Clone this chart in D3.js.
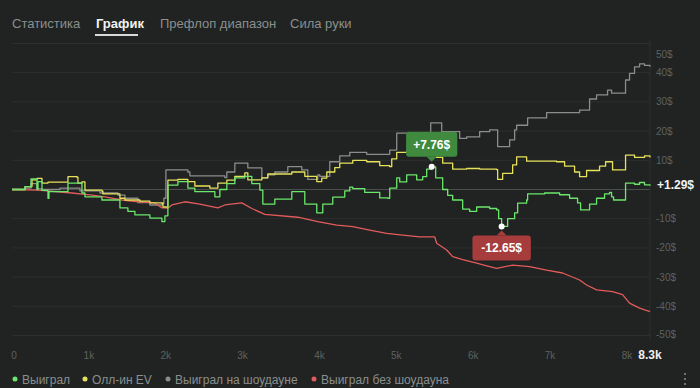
<!DOCTYPE html>
<html>
<head>
<meta charset="utf-8">
<script src="https://cdn.jsdelivr.net/npm/d3@7"></script>
<style>
  html, body { margin: 0; padding: 0; background: #202322; overflow: hidden; }
  svg { display: block; font-family: "Liberation Sans", "Noto Sans", sans-serif; }
</style>
</head>
<body>
<svg id="chart" width="700" height="388"></svg>
<script>
// tabs above the chart
const tabs = ['Статистика', 'График', 'Префлоп диапазон', 'Сила руки'];
const activeTab = 1;

// x axis (hands) and y axis (dollars)
const xTicks = [0, 1000, 2000, 3000, 4000, 5000, 6000, 7000, 8000];
const xTickLabels = ['0', '1k', '2k', '3k', '4k', '5k', '6k', '7k', '8k'];
const totalHands = 8300;
const totalLabel = '8.3k';
const yTicks = [50, 40, 30, 20, 10, -10, -20, -30, -40, -50];

// series: Выиграл (green)
const winHands = [0, 169, 247, 325, 338, 390, 468, 481, 728, 910, 949, 1170, 1404, 1508, 1599, 1794, 1950, 1989, 2028, 2158, 2288, 2379, 2639, 2704, 2795, 2899, 3029, 3120, 3224, 3263, 3419, 3640, 3809, 3965, 4043, 4173, 4329, 4394, 4433, 4589, 4784, 4888, 4914, 5005, 5044, 5135, 5265, 5343, 5395, 5460, 5512, 5603, 5668, 5733, 5863, 5954, 6045, 6214, 6305, 6331, 6370, 6448, 6539, 6578, 6695, 6708, 6929, 7124, 7254, 7358, 7397, 7514, 7605, 7709, 7774, 7800, 7826, 7969, 7982, 8099, 8164, 8229, 8300];
const winValues = [0, 1, 3.6, 0, 2.7, -0.3, -3, -0.7, 2.2, -1.2, -2.5, -3.6, -6.3, -7.5, -8.7, -9.8, -11, -9, 1.5, 2.7, 0.5, -0.7, -2.5, 0, 2, 4, 4.5, 2, -0.2, -5, -3.3, -0.7, -5, -8, -5, -2.6, -0.5, 0.8, 0.3, -1, -2.9, -3, 0.5, 4, 2.6, 5, 3.3, 4.4, 7, 7.76, 4, 0, -2, -3.6, -6.7, -7.5, -6, -6.5, -7, -10, -12.65, -10, -8, -4.7, -3.6, -1.5, -1.2, -1.8, -3, -4.6, -7, -5, -3, -1.5, -1, -2.5, -3.6, -3.6, 2.2, 1.8, 2.4, 1.6, 1.29];

// series: Олл-ин EV (yellow)
const evHands = [0, 169, 260, 325, 390, 468, 715, 728, 845, 858, 910, 949, 1170, 1183, 1378, 1404, 1469, 1664, 1794, 1950, 1963, 2002, 2028, 2158, 2288, 2379, 2574, 2678, 2795, 2899, 3029, 3068, 3250, 3328, 3640, 3809, 3965, 4030, 4095, 4199, 4264, 4433, 4615, 4784, 4914, 4940, 5005, 5135, 5434, 5525, 5603, 5733, 5915, 6084, 6305, 6318, 6383, 6513, 6565, 6695, 7085, 7189, 7319, 7384, 7475, 7644, 7722, 7813, 7969, 7982, 8099, 8229, 8300];
const evValues = [0, 1, 3.3, 3.8, 2.2, 2.5, 2.5, 4.4, 4.2, 2.2, 2.6, -0.2, -0.6, -1.5, -1.5, -3, -3.6, -4, -4.6, -4.6, -6, -6, 3.2, 3.5, 2.7, 1.2, 0.5, 2.2, 3.2, 4.5, 5.7, 3.3, 4, 5.3, 6, 4.5, 2.7, 3.9, 6, 7.5, 9, 10, 9.5, 8.2, 7.8, 10.5, 12.7, 13.3, 12.5, 11, 9, 7, 7.2, 7, 6.8, 3.5, 5.5, 8.4, 11.2, 9.7, 9.5, 8, 6, 4.4, 6.5, 8, 9.5, 6.7, 6.7, 11.8, 11, 11.5, 11];

// series: Выиграл на шоудауне (gray)
const sdHands = [0, 169, 247, 325, 390, 624, 884, 1144, 1378, 1469, 1638, 1794, 1950, 1976, 2002, 2288, 2314, 2769, 2795, 2899, 3068, 3250, 3328, 3419, 3588, 3770, 3848, 3978, 4004, 4134, 4264, 4394, 4615, 4914, 5005, 5434, 5447, 5590, 5824, 5915, 6084, 6214, 6318, 6474, 6539, 6565, 6708, 6955, 7384, 7514, 7605, 7748, 7800, 7982, 8034, 8099, 8164, 8229, 8300];
const sdValues = [0, 0.5, 2, 0.2, 0, 0.5, -0.5, -1.2, -1.9, -3, -4.5, -5.3, -4.8, -3, 6.7, 6, 4.7, 4.1, 6, 9, 7.4, 4, 5, 6, 7.8, 6.7, 3.5, 5, 4.5, 9.5, 11.5, 12.7, 12, 13.5, 19.3, 18.5, 22.8, 19.8, 17.5, 18, 19.8, 20.4, 14.7, 17, 20.4, 22, 24.5, 26.3, 27.2, 31, 32.4, 34, 33, 37.5, 39.8, 42, 43, 42.5, 42];

// series: Выиграл без шоудауна (red)
const nsdHands = [0, 338, 780, 1040, 1209, 1430, 1638, 1859, 1950, 2028, 2080, 2249, 2444, 2678, 2769, 2990, 3120, 3289, 3718, 3978, 4225, 4433, 4654, 4875, 5083, 5304, 5499, 5525, 5655, 5733, 5863, 6045, 6214, 6305, 6513, 6734, 6955, 7163, 7384, 7475, 7605, 7813, 7943, 8034, 8164, 8300];
const nsdValues = [0, -0.2, -1.2, -1.9, -2.5, -3.6, -4.2, -4.6, -6.3, -6.4, -5.3, -4.2, -5, -6.3, -5.3, -4.6, -6.5, -8.5, -9.5, -11, -12.2, -12.7, -13.9, -15, -15.6, -16.2, -16.2, -18.4, -20.7, -23, -24, -25.2, -26.4, -27, -25.9, -26.4, -27.6, -28.6, -31, -32.7, -34.4, -35, -36, -38.9, -40.6, -41.8];

// legend
const legendNames = ['Выиграл', 'Олл-ин EV', 'Выиграл на шоудауне', 'Выиграл без шоудауна'];
const legendColors = ['#6be86b', '#e8e25a', '#8c8c8c', '#e35b5b'];

// annotations: max and min of the main series, last value
const peak = { hand: 5460, value: 7.76 };
const low = { hand: 6370, value: -12.65 };
const lastValue = 1.29;

const svg = d3.select('#chart');

// tabs
const tabX = [12, 96, 160, 290];
tabs.forEach((t, i) => {
  svg.append('text')
    .attr('x', tabX[i])
    .attr('y', 28)
    .attr('font-size', 13)
    .attr('font-weight', i === activeTab ? 700 : 400)
    .attr('fill', i === activeTab ? '#f2f2f2' : '#8b8f8d')
    .text(t);
});
svg.append('rect')
  .attr('x', 95).attr('y', 34).attr('width', 43).attr('height', 2)
  .attr('fill', '#d8d8d8');

// scales
const x = d3.scaleLinear().domain([0, totalHands]).range([12, 650]);
const y = d3.scaleLinear().domain([-50, 50]).range([335.5, 43.5]);

// grid
svg.append('g')
  .selectAll('line')
  .data(yTicks)
  .enter()
  .append('line')
  .attr('x1', 12).attr('x2', 650)
  .attr('y1', d => y(d)).attr('y2', d => y(d))
  .attr('stroke', '#2c2f2e')
  .attr('stroke-width', 1);

svg.append('line')
  .attr('x1', 12).attr('x2', 650)
  .attr('y1', y(0)).attr('y2', y(0))
  .attr('stroke', '#4a4e4c')
  .attr('stroke-width', 1.2);

svg.append('line')
  .attr('x1', 650).attr('x2', 650)
  .attr('y1', 40).attr('y2', 340)
  .attr('stroke', '#2e3130');

// y labels (right side), top and bottom pushed inside
svg.append('g')
  .selectAll('text')
  .data(yTicks)
  .enter()
  .append('text')
  .attr('x', 656)
  .attr('y', d => Math.min(Math.max(y(d), 54), 334))
  .attr('dy', '0.35em')
  .attr('font-size', 10)
  .attr('fill', '#5d6260')
  .text(d => `${d}$`);

// x labels
svg.append('g')
  .selectAll('text')
  .data(xTicks)
  .enter()
  .append('text')
  .attr('x', (d, i) => x(d) + (i === 0 ? 2 : 0))
  .attr('y', 355)
  .attr('dy', '0.35em')
  .attr('text-anchor', 'middle')
  .attr('font-size', 10)
  .attr('fill', '#5d6260')
  .text((d, i) => xTickLabels[i]);

svg.append('text')
  .attr('x', x(totalHands))
  .attr('y', 355)
  .attr('dy', '0.35em')
  .attr('text-anchor', 'middle')
  .attr('font-size', 12)
  .attr('font-weight', 700)
  .attr('fill', '#f0f0f0')
  .text(totalLabel);

// lines
const series = [
  { hands: sdHands, values: sdValues, color: legendColors[2], curve: d3.curveStepAfter },
  { hands: nsdHands, values: nsdValues, color: legendColors[3], curve: d3.curveLinear },
  { hands: evHands, values: evValues, color: legendColors[1], curve: d3.curveStepAfter },
  { hands: winHands, values: winValues, color: legendColors[0], curve: d3.curveStepAfter },
];

series.forEach((s) => {
  const pts = s.hands.map((h, i) => [h, s.values[i]]);
  const line = d3.line()
    .x(d => x(d[0]))
    .y(d => y(d[1]))
    .curve(s.curve);
  svg.append('path')
    .datum(pts)
    .attr('d', line)
    .attr('fill', 'none')
    .attr('stroke', s.color)
    .attr('stroke-width', 1.3)
    .attr('stroke-linejoin', 'round');
});

// current value label
svg.append('text')
  .attr('x', 657)
  .attr('y', y(lastValue) - 1)
  .attr('dy', '0.35em')
  .attr('font-size', 12)
  .attr('font-weight', 700)
  .attr('fill', '#f2f2f2')
  .text(`+${lastValue}$`);

// tooltip boxes for max / min
function badge(point, text, fill, above) {
  const cx = x(point.hand);
  const cy = y(point.value);
  const w = text.length * 7.2 + 8;
  const h = 25;
  const g = svg.append('g');
  const top = above ? cy - 35 : cy + 9;
  g.append('rect')
    .attr('x', cx - w / 2).attr('y', top)
    .attr('width', w).attr('height', h)
    .attr('rx', 3)
    .attr('fill', fill);
  const tip = above
    ? `M${cx - 5},${top + h} L${cx},${top + h + 5} L${cx + 5},${top + h} Z`
    : `M${cx - 5},${top} L${cx},${top - 5} L${cx + 5},${top} Z`;
  g.append('path').attr('d', tip).attr('fill', fill);
  g.append('text')
    .attr('x', cx).attr('y', top + h / 2)
    .attr('dy', '0.35em')
    .attr('text-anchor', 'middle')
    .attr('font-size', 12)
    .attr('font-weight', 700)
    .attr('fill', '#ffffff')
    .text(text);
  g.append('circle')
    .attr('cx', cx).attr('cy', cy).attr('r', 3)
    .attr('fill', '#ffffff');
}
badge(peak, `+${peak.value}$`, '#3f8a3f', true);
badge(low, `${low.value}$`, '#a63c3c', false);

// legend at the bottom edge
const legX = [15, 85, 168, 314];
legendNames.forEach((n, i) => {
  svg.append('circle')
    .attr('cx', legX[i]).attr('cy', 379).attr('r', 2.5)
    .attr('fill', legendColors[i]);
  svg.append('text')
    .attr('x', legX[i] + 7)
    .attr('y', 384)
    .attr('font-size', 12)
    .attr('fill', '#8b8f8d')
    .text(n);
});

// menu dots
[374, 379, 384].forEach((cy) => {
  svg.append('circle').attr('cx', 685).attr('cy', cy).attr('r', 1)
    .attr('fill', '#8b8f8d');
});
</script>
</body>
</html>
